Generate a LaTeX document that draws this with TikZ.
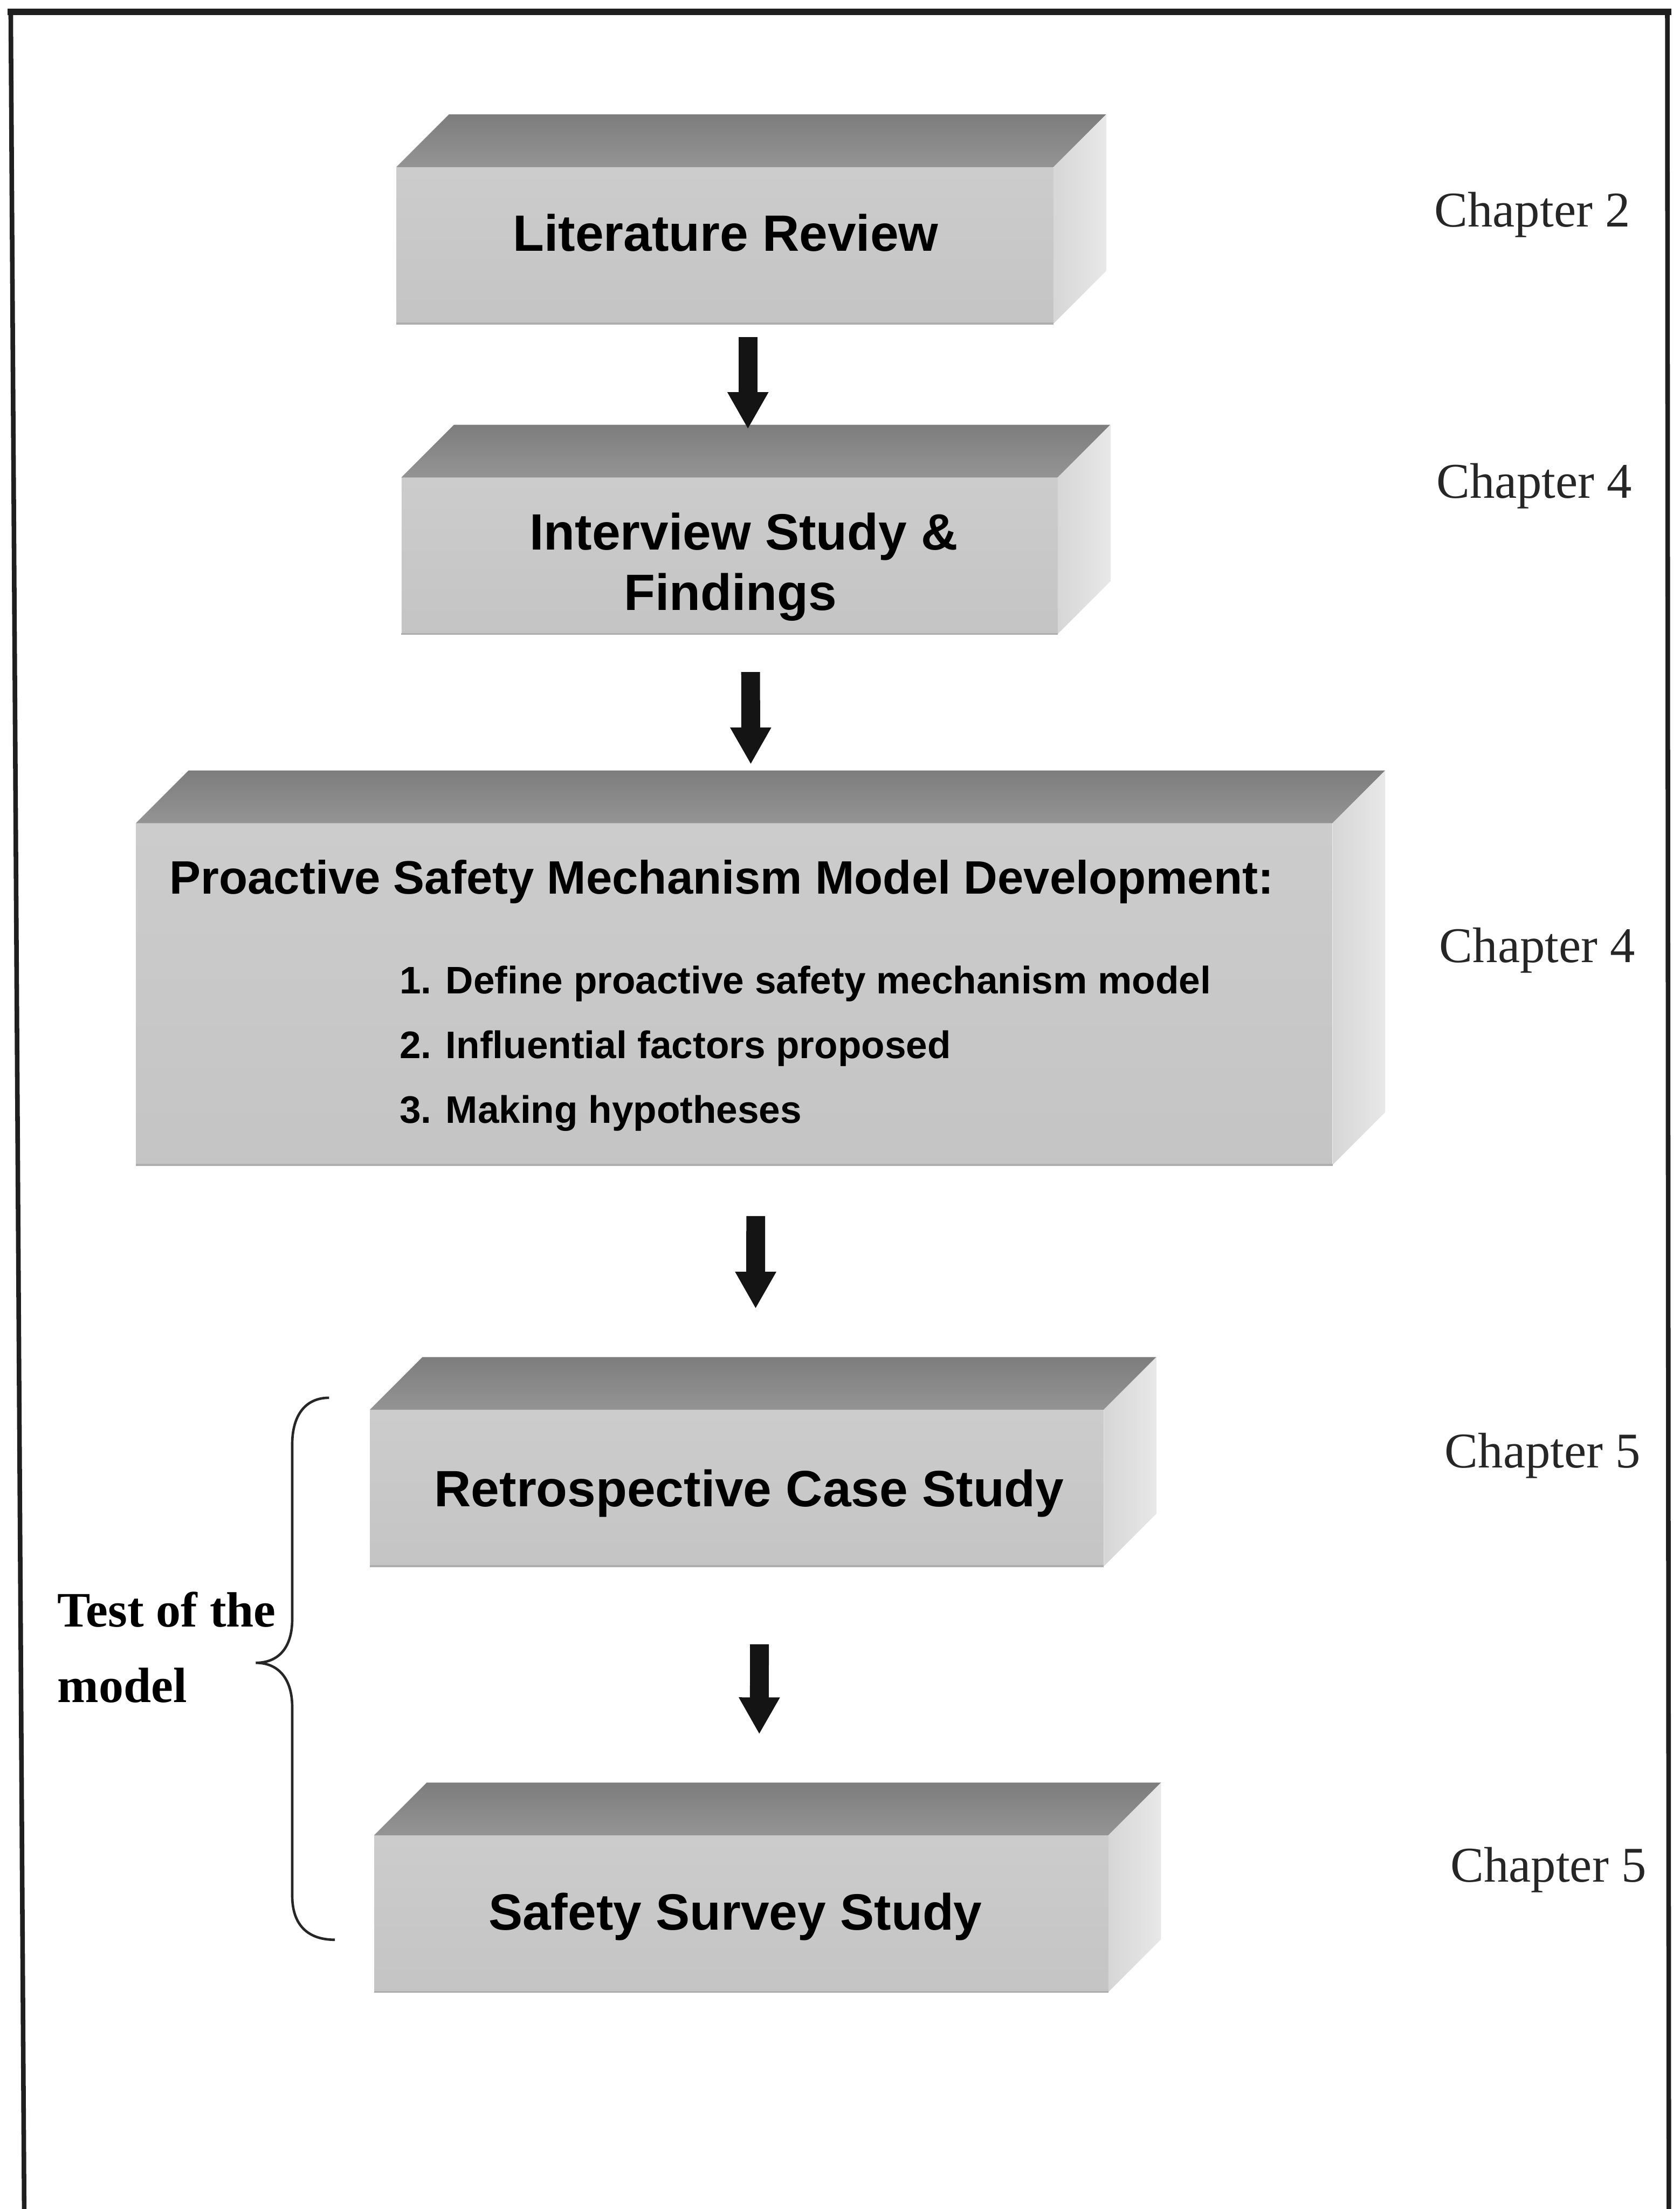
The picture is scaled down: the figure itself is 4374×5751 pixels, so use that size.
\documentclass[tikz,border=0pt]{standalone}
\usepackage{fontspec}
\setmainfont{Liberation Serif}
\setsansfont{Liberation Sans}
\usetikzlibrary{calc,arrows.meta}

% top and right faces of a slab whose front face is the node #1
\newcommand\slabfaces[1]{%
  \shade[top color=black!51, bottom color=black!42]
    (#1.north west) -- ++(137,-137) -- ($(#1.north east)+(137,-137)$) -- (#1.north east) -- cycle;
  \shade[left color=black!16, right color=black!9]
    (#1.north east) -- ++(137,-137) -- ($(#1.south east)+(137,-137)$) -- (#1.south east) -- cycle;
  \draw[black!32, line width=0.05cm] (#1.south west) -- (#1.south east);}

\begin{document}
\begin{tikzpicture}[x=0.01cm, y=-0.01cm,
  front/.style={rectangle, inner sep=0pt, draw=none, anchor=north west,
    top color=black!20, bottom color=black!23},
  boxtext/.style={inner sep=0pt, anchor=base, font=\sffamily\bfseries\fontsize{37.8pt}{45pt}\selectfont},
  titletext/.style={inner sep=0pt, anchor=base west, font=\sffamily\bfseries\fontsize{34.7pt}{42pt}\selectfont},
  itemtext/.style={inner sep=0pt, anchor=base west, font=\sffamily\bfseries\fontsize{28.4pt}{34pt}\selectfont},
  chaptext/.style={inner sep=0pt, anchor=base west, text=black!85, font=\rmfamily\fontsize{37pt}{44pt}\selectfont},
  sidetext/.style={inner sep=0pt, anchor=base west, font=\rmfamily\bfseries\fontsize{36.7pt}{44pt}\selectfont},
  flow/.style={draw=black!92, line width=0.49cm, line cap=butt,
    -{Triangle[width=1cm,length=0.96cm]}},
  framerule/.style={draw=black!88, line cap=butt}
]
\useasboundingbox (0,0) rectangle (4374,5751);
\fill[white] (0,0) rectangle (4374,5751);

% page frame (open at the bottom)
\draw[framerule, line width=0.17cm] (20,31) -- (4352,31);
\draw[framerule, line width=0.12cm] (28,31) -- (63,5751);
\draw[framerule, line width=0.12cm] (4342,31) -- (4346,5751);

% slabs
\node[front, minimum width=17.09cm, minimum height=4.06cm] (b1) at (1032,435) {};
\slabfaces{b1}
\node[front, minimum width=17.07cm, minimum height=4.06cm] (b2) at (1045,1243) {};
\slabfaces{b2}
\node[front, minimum width=31.13cm, minimum height=8.88cm] (b3) at (354,2143) {};
\slabfaces{b3}
\node[front, minimum width=19.09cm, minimum height=4.06cm] (b4) at (963,3670) {};
\slabfaces{b4}
\node[front, minimum width=19.10cm, minimum height=4.06cm] (b5) at (974,4778) {};
\slabfaces{b5}

% slab texts
\node[boxtext] (t1) at (1890,654) {Literature Review};
\node[boxtext] (t2a) at (1937,1431) {Interview Study \&};
\node[boxtext] (t2b) at (1902,1589) {Findings};
\node[titletext] (t3) at (441,2327) {Proactive Safety Mechanism Model Development:};
\node[itemtext] (i1) at (1040,2587) {1. Define proactive safety mechanism model};
\node[itemtext] (i2) at (1040,2756) {2. Influential factors proposed};
\node[itemtext] (i3) at (1040,2924) {3. Making hypotheses};
\node[boxtext] (t4) at (1951,3922) {Retrospective Case Study};
\node[boxtext] (t5) at (1915,5025) {Safety Survey Study};

% flow arrows
\draw[flow] ($(b1.south)+(60,35)$) -- ($(b2.north)+(48,-126)$);
\draw[flow] ($(b2.south)+(55,99)$) -- ($(b3.north)+(43,-153)$);
\draw[flow] ($(b3.south)+(56,133)$) -- ($(b4.north)+(49,-263)$);
\draw[flow] ($(b4.south)+(59,203)$) -- ($(b5.north)+(47,-263)$);

% chapter references
\node[chaptext] (c1) at (3735,591) {Chapter 2};
\node[chaptext] (c2) at (3740,1296) {Chapter 4};
\node[chaptext] (c3) at (3748,2505) {Chapter 4};
\node[chaptext] (c4) at (3762,3821) {Chapter 5};
\node[chaptext] (c5) at (3777,4899) {Chapter 5};

% brace grouping the two test studies
\draw[black!85, line width=0.065cm]
  (857,3639) .. controls (795,3639) and (761,3685) .. (761,3760)
  -- (761,4215) .. controls (761,4290) and (725,4329) .. (666,4329)
  .. controls (725,4329) and (761,4370) .. (761,4445)
  -- (761,4935) .. controls (761,5010) and (800,5050) .. (872,5050);
\node[sidetext] (s1) at (149,4235) {Test of the};
\node[sidetext] (s2) at (149,4432) {model};
\end{tikzpicture}
\end{document}
